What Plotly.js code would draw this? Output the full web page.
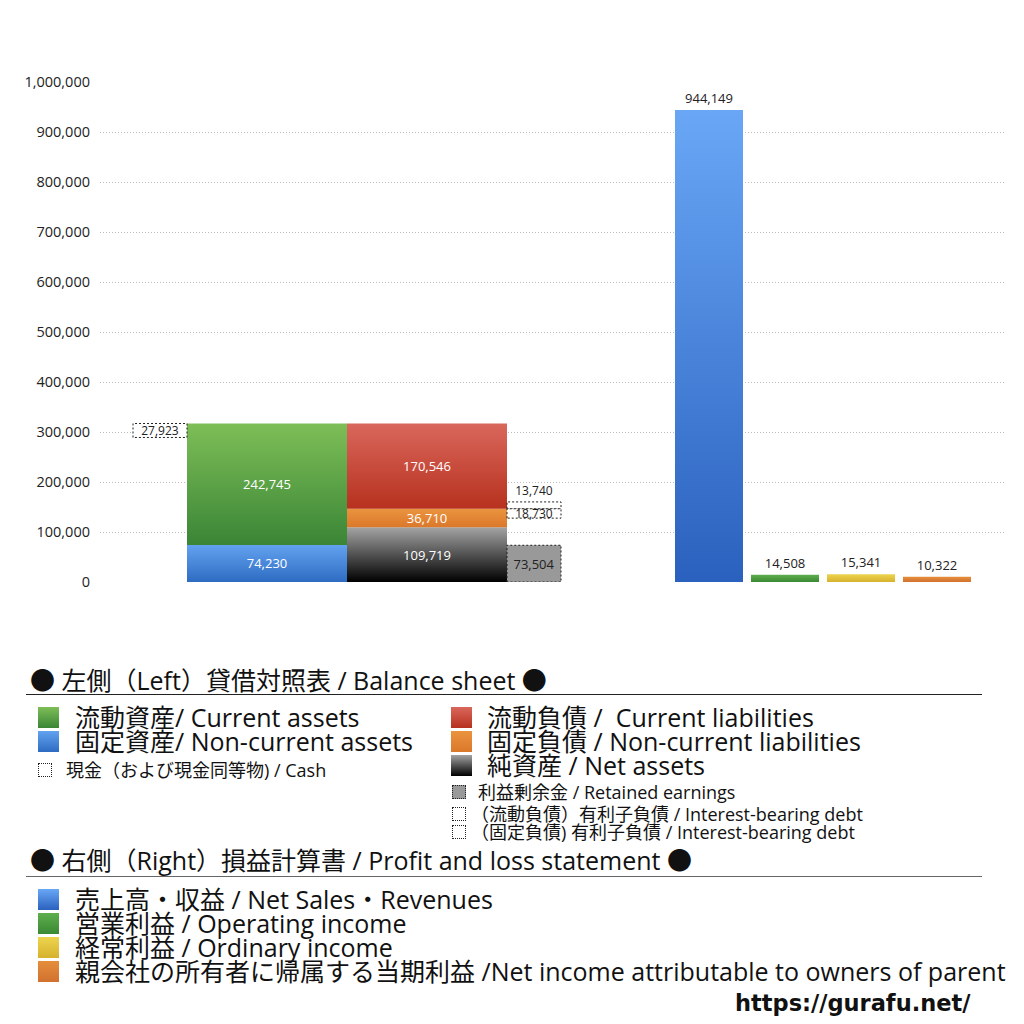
<!DOCTYPE html>
<html>
<head>
<meta charset="utf-8">
<script src="https://cdn.plot.ly/plotly-3.0.1.min.js"></script>
<style>
  body { margin: 0; background: #fff; }
  #wrap { position: relative; width: 1024px; height: 1024px; overflow: hidden;
          font-family: "Open Sans", "Noto Sans CJK JP", sans-serif; color: #111; }
  #chart { position: absolute; left: 0; top: 0; width: 1024px; height: 1024px; }
  .lg { position: absolute; white-space: nowrap; line-height: 24px; }
  .big { font-size: 25px; }
  .small { font-size: 18px; line-height: 18px; }
  .sw { position: absolute; }
  .rule { position: absolute; height: 0; }
</style>
</head>
<body>
<div id="wrap">
  <div id="chart"></div>
</div>
<script>
// balance sheet (left)
var assetNames = ['固定資産/ Non-current assets', '流動資産/ Current assets'];
var assetValues = [74230, 242745];
var liabNames = ['純資産 / Net assets', '固定負債 / Non-current liabilities', '流動負債 / Current liabilities'];
var liabValues = [109719, 36710, 170546];
var cashValue = 27923;
var retainedValue = 73504;
var debtCurrent = 13740;
var debtNonCurrent = 18730;

// profit and loss (right)
var plNames = ['売上高・収益', '営業利益', '経常利益', '親会社の所有者に帰属する当期利益'];
var plValues = [944149, 14508, 15341, 10322];

// slot layout (x pixels on a 1:1 axis)
var slotAsset = 267, slotLiab = 427, slotCash = 160, slotSide = 534;
var plSlots = [709, 785, 861, 937];
var wideW = 160, narrowW = 54, plW = 68;

var grad = {
  ncAsset: ['#63a2ef', '#2e6cc3'],
  cAsset: ['#7ebe57', '#3a8536'],
  net: ['#a4a4a4', '#000000'],
  ncLiab: ['#ea943f', '#db782b'],
  cLiab: ['#d9675c', '#b7311e'],
  sales: ['#69a7f6', '#2a61be'],
  op: ['#5fae4e', '#3a8934'],
  ord: ['#edd44e', '#d6b22d'],
  ni: ['#e48e3c', '#d2712f']
};

var fontMain = '"Open Sans", "Noto Sans CJK JP", sans-serif';
var traces = [];
var gradOrder = [];
var dashed = [];

function addBar(x, w, base, val, key, opts) {
  opts = opts || {};
  var t = {
    type: 'bar', x: [x], y: [val], base: [base], width: [w],
    marker: { color: key ? grad[key][1] : (opts.fill || '#fff'),
              line: { color: opts.dash ? '#222' : 'rgba(0,0,0,0)', width: opts.dash ? 1 : 0 } },
    texttemplate: '%{y:,}',
    textposition: opts.pos || 'inside',
    insidetextanchor: 'middle',
    constraintext: 'none',
    textfont: { family: fontMain, size: opts.size || 13, color: opts.tc || '#fff' },
    cliponaxis: false,
    hoverinfo: 'skip'
  };
  gradOrder.push(key);
  dashed.push(!!opts.dash);
  traces.push(t);
}

// left: assets stack
var b = 0;
addBar(slotAsset, wideW, b, assetValues[0], 'ncAsset');
b += assetValues[0];
addBar(slotAsset, wideW, b, assetValues[1], 'cAsset');
var totalAssets = b + assetValues[1];

// liabilities / net assets stack
var lb = 0;
var liabKeys = ['net', 'ncLiab', 'cLiab'];
var liabBases = [];
for (var i = 0; i < liabValues.length; i++) {
  liabBases.push(lb);
  addBar(slotLiab, wideW, lb, liabValues[i], liabKeys[i]);
  lb += liabValues[i];
}

// cash box at top of assets
addBar(slotCash, narrowW, totalAssets - cashValue, cashValue, null, { dash: true, tc: '#222', size: 12 });
// retained earnings
addBar(slotSide, narrowW, 0, retainedValue, null, { dash: true, fill: '#999999', tc: '#222', size: 13 });
// interest-bearing debt boxes around current / non-current liabilities boundary
addBar(slotSide, narrowW, liabBases[2], debtCurrent, null, { dash: true, tc: '#222', size: 12, pos: 'outside' });
addBar(slotSide, narrowW, liabBases[2] - debtNonCurrent, debtNonCurrent, null, { dash: true, tc: '#222', size: 12 });

// right: P&L
var plKeys = ['sales', 'op', 'ord', 'ni'];
for (var j = 0; j < plValues.length; j++) {
  addBar(plSlots[j], plW, 0, plValues[j], plKeys[j], { pos: 'outside', tc: '#222', size: 13 });
}

var layout = {
  width: 1024, height: 1024,
  margin: { l: 100, r: 19, t: 82, b: 442 },
  barmode: 'overlay',
  showlegend: false,
  paper_bgcolor: '#fff', plot_bgcolor: '#fff',
  font: { family: fontMain, color: '#222' },
  xaxis: { range: [100, 1005], visible: false, fixedrange: true },
  yaxis: {
    range: [0, 1000000], dtick: 100000, tickformat: ',',
    showgrid: true, gridcolor: '#bdbdbd', griddash: '1px,2px', gridwidth: 1,
    zeroline: false, showline: false, ticks: '', ticklabelstandoff: 9,
    tickfont: { family: fontMain, size: 14.5, color: '#222' }
  }
};

Plotly.newPlot('chart', traces, layout, { staticPlot: true }).then(function (gd) {
  var svg = gd.querySelector('.main-svg');
  var ns = 'http://www.w3.org/2000/svg';
  var defs = document.createElementNS(ns, 'defs');
  Object.keys(grad).forEach(function (k) {
    var lg = document.createElementNS(ns, 'linearGradient');
    lg.setAttribute('id', 'gr_' + k);
    lg.setAttribute('x1', '0'); lg.setAttribute('y1', '0');
    lg.setAttribute('x2', '0'); lg.setAttribute('y2', '1');
    [[0, grad[k][0]], [1, grad[k][1]]].forEach(function (s) {
      var st = document.createElementNS(ns, 'stop');
      st.setAttribute('offset', s[0]);
      st.setAttribute('stop-color', s[1]);
      lg.appendChild(st);
    });
    defs.appendChild(lg);
  });
  svg.insertBefore(defs, svg.firstChild);
  var tr = gd.querySelectorAll('.barlayer .trace');
  tr.forEach(function (g, idx) {
    g.querySelectorAll('path').forEach(function (p) {
      if (gradOrder[idx]) p.style.fill = 'url(#gr_' + gradOrder[idx] + ')';
      if (dashed[idx]) { p.style.strokeDasharray = '2,2'; p.style.stroke = '#222'; }
    });
  });
});

// legend (html)
var wrap = document.getElementById('wrap');
function el(cls, css, html) {
  var d = document.createElement('div');
  d.className = cls;
  d.style.cssText = css;
  if (html) d.innerHTML = html;
  wrap.appendChild(d);
  return d;
}
function swatch(x, yc, s, key, extra) {
  var bg = key ? 'linear-gradient(' + grad[key][0] + ',' + grad[key][1] + ')' : '#fff';
  el('sw', 'left:' + x + 'px;top:' + (yc - s / 2) + 'px;width:' + s + 'px;height:' + s + 'px;background:' + bg + ';' + (extra || ''));
}
function label(x, yc, cls, text, extra) {
  el('lg ' + cls, 'left:' + x + 'px;top:' + yc + 'px;transform:translateY(-50%);' + (extra || ''), text);
}

label(30, 680, 'big', '● 左側（Left）貸借対照表 / Balance sheet ●');
el('rule', 'left:26px;top:694px;width:956px;border-top:1px solid #222;');

swatch(38, 717, 21, 'cAsset');
label(75, 717, 'big', '流動資産/ Current assets');
swatch(38, 741, 21, 'ncAsset');
label(75, 741, 'big', '固定資産/ Non-current assets');
swatch(38, 770, 14, null, 'box-sizing:border-box;border:1px dotted #222;');
label(66, 770, 'small', '現金（および現金同等物) / Cash');

swatch(451, 717, 21, 'cLiab');
label(487, 717, 'big', '流動負債 /&nbsp; Current liabilities');
swatch(451, 741, 21, 'ncLiab');
label(487, 741, 'big', '固定負債 / Non-current liabilities');
swatch(451, 765, 21, 'net');
label(487, 765, 'big', '純資産 / Net assets');
swatch(452, 792, 14, null, 'box-sizing:border-box;border:1px dotted #222;background:#999;');
label(478, 792, 'small', '利益剰余金 / Retained earnings');
swatch(452, 814, 14, null, 'box-sizing:border-box;border:1px dotted #222;');
label(471, 814, 'small', '（流動負債）有利子負債 / Interest-bearing debt');
swatch(452, 832, 14, null, 'box-sizing:border-box;border:1px dotted #222;');
label(471, 832, 'small', '（固定負債) 有利子負債 / Interest-bearing debt');

label(30, 860, 'big', '● 右側（Right）損益計算書 / Profit and loss statement ●');
el('rule', 'left:26px;top:876px;width:956px;border-top:1px solid #666;');

swatch(38, 899, 21, 'sales');
label(75, 899, 'big', '売上高・収益 / Net Sales・Revenues');
swatch(38, 923, 21, 'op');
label(75, 923, 'big', '営業利益 / Operating income');
swatch(38, 947, 21, 'ord');
label(75, 947, 'big', '経常利益 / Ordinary income');
swatch(38, 971, 21, 'ni');
label(75, 971, 'big', '親会社の所有者に帰属する当期利益 /Net income attributable to owners of parent');

label(735, 1003, 'big', 'https://gurafu.net/', 'font-family:"DejaVu Sans",sans-serif;font-weight:bold;font-size:22.5px;');
</script>
</body>
</html>
